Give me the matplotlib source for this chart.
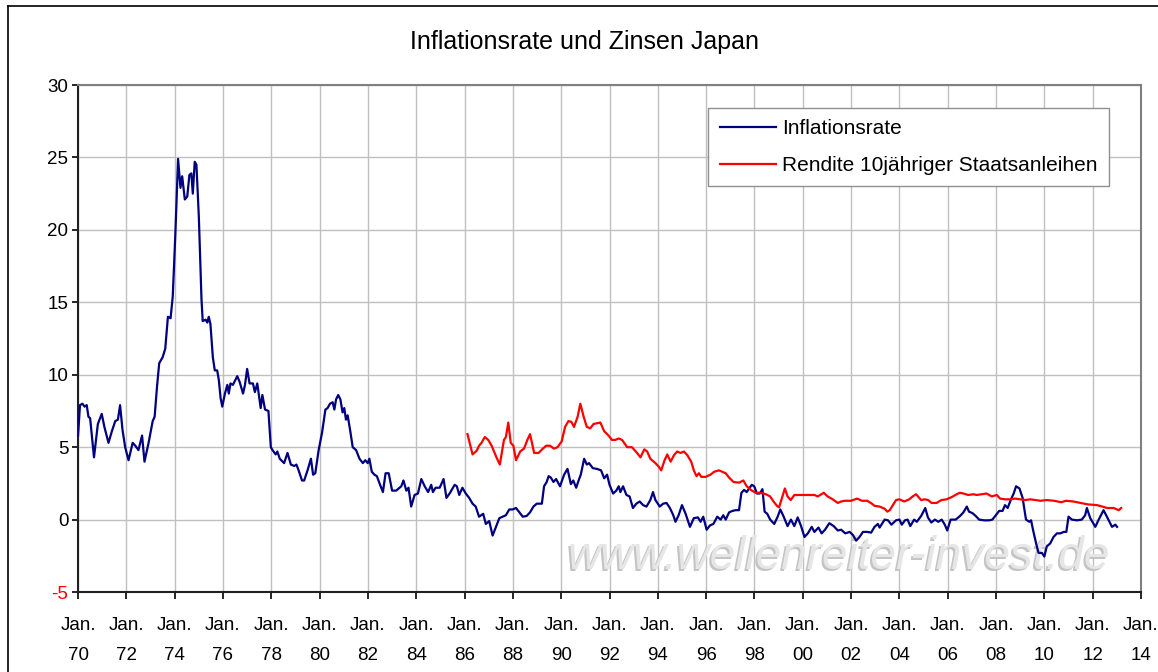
import matplotlib
matplotlib.use("Agg")
import matplotlib.pyplot as plt
from matplotlib.lines import Line2D

plt.rcParams['font.family'] = ['Liberation Sans', 'DejaVu Sans']
plt.rcParams['axes.unicode_minus'] = False

# Inflationsrate Japan (decimal year, percent)
infl_years = [
    1970.00, 1970.08, 1970.18, 1970.27, 1970.36, 1970.43, 1970.50, 1970.66, 1970.82, 1970.98,
    1971.09, 1971.26, 1971.40, 1971.54, 1971.65, 1971.74, 1971.84, 1971.95, 1972.09, 1972.26,
    1972.37, 1972.50, 1972.65, 1972.75, 1972.92, 1973.09, 1973.17, 1973.27, 1973.36, 1973.50,
    1973.61, 1973.72, 1973.83, 1973.92, 1974.03, 1974.14, 1974.24, 1974.31, 1974.42, 1974.52,
    1974.61, 1974.69, 1974.75, 1974.83, 1974.90, 1975.00, 1975.11, 1975.16, 1975.28, 1975.35,
    1975.41, 1975.48, 1975.58, 1975.66, 1975.76, 1975.83, 1975.90, 1975.97, 1976.08, 1976.18,
    1976.24, 1976.31, 1976.41, 1976.59, 1976.69, 1976.83, 1976.91, 1977.00, 1977.10, 1977.24,
    1977.32, 1977.42, 1977.56, 1977.63, 1977.74, 1977.88, 1977.98, 1978.05, 1978.18, 1978.25,
    1978.35, 1978.53, 1978.67, 1978.81, 1978.95, 1979.04, 1979.13, 1979.27, 1979.36, 1979.50,
    1979.64, 1979.73, 1979.82, 1979.96, 1980.10, 1980.24, 1980.33, 1980.43, 1980.54, 1980.61,
    1980.68, 1980.77, 1980.86, 1980.95, 1981.02, 1981.09, 1981.16, 1981.26, 1981.37, 1981.51,
    1981.65, 1981.79, 1981.89, 1981.99, 1982.06, 1982.16, 1982.27, 1982.37, 1982.48, 1982.62,
    1982.73, 1982.86, 1983.00, 1983.17, 1983.38, 1983.47, 1983.59, 1983.68, 1983.79, 1983.93,
    1984.07, 1984.21, 1984.35, 1984.49, 1984.62, 1984.69, 1984.80, 1984.97, 1985.13, 1985.25,
    1985.38, 1985.59, 1985.68, 1985.78, 1985.91, 1986.05, 1986.19, 1986.33, 1986.46, 1986.60,
    1986.77, 1986.88, 1987.02, 1987.16, 1987.30, 1987.44, 1987.57, 1987.71, 1987.85, 1987.99,
    1988.13, 1988.27, 1988.41, 1988.57, 1988.71, 1988.85, 1988.99, 1989.20, 1989.29, 1989.40,
    1989.48, 1989.57, 1989.68, 1989.79, 1989.95, 1990.12, 1990.26, 1990.40, 1990.50, 1990.62,
    1990.72, 1990.81, 1990.95, 1991.06, 1991.15, 1991.31, 1991.48, 1991.65, 1991.78, 1991.90,
    1992.00, 1992.15, 1992.28, 1992.38, 1992.45, 1992.56, 1992.70, 1992.83, 1992.97, 1993.11,
    1993.25, 1993.39, 1993.53, 1993.69, 1993.80, 1993.90, 1994.08, 1994.22, 1994.36, 1994.50,
    1994.64, 1994.73, 1994.86, 1995.00, 1995.15, 1995.33, 1995.49, 1995.66, 1995.77, 1995.88,
    1996.02, 1996.16, 1996.30, 1996.46, 1996.60, 1996.71, 1996.81, 1996.95, 1997.09, 1997.22,
    1997.36, 1997.46, 1997.57, 1997.68, 1997.78, 1997.89, 1997.99, 1998.10, 1998.22, 1998.33,
    1998.42, 1998.53, 1998.65, 1998.82, 1998.96, 1999.07, 1999.21, 1999.37, 1999.51, 1999.65,
    1999.79, 1999.93, 2000.07, 2000.21, 2000.37, 2000.48, 2000.65, 2000.78, 2000.92, 2001.10,
    2001.28, 2001.45, 2001.59, 2001.76, 2001.94, 2002.07, 2002.21, 2002.35, 2002.49, 2002.67,
    2002.83, 2002.97, 2003.11, 2003.18, 2003.39, 2003.53, 2003.67, 2003.86, 2004.00, 2004.10,
    2004.23, 2004.34, 2004.45, 2004.61, 2004.72, 2004.90, 2005.07, 2005.18, 2005.32, 2005.47,
    2005.61, 2005.75, 2005.88, 2005.98, 2006.12, 2006.33, 2006.51, 2006.65, 2006.79, 2006.88,
    2007.02, 2007.16, 2007.30, 2007.51, 2007.72, 2007.85, 2007.99, 2008.13, 2008.27, 2008.37,
    2008.48, 2008.62, 2008.73, 2008.83, 2008.97, 2009.10, 2009.24, 2009.38, 2009.45, 2009.55,
    2009.66, 2009.76, 2009.90, 2010.00, 2010.10, 2010.24, 2010.38, 2010.52, 2010.66, 2010.80,
    2010.91, 2011.00, 2011.14, 2011.35, 2011.55, 2011.69, 2011.76, 2011.90, 2012.11, 2012.25,
    2012.45, 2012.59, 2012.80, 2012.94, 2013.01,
]
infl_values = [
    5.8, 7.9, 8.0, 7.8, 7.9, 7.1, 7.0, 4.3, 6.6, 7.3,
    6.4, 5.3, 6.1, 6.8, 6.9, 7.9, 6.2, 5.0, 4.1, 5.3,
    5.1, 4.8, 5.8, 4.0, 5.3, 6.8, 7.1, 9.2, 10.8, 11.2,
    11.8, 14.0, 13.9, 15.4, 19.8, 24.9, 22.9, 23.7, 22.1, 22.3,
    23.8, 23.9, 22.5, 24.7, 24.5, 20.9, 15.2, 13.7, 13.8, 13.6,
    14.0, 13.5, 11.2, 10.3, 10.3, 9.6, 8.4, 7.8, 8.7, 9.3,
    8.7, 9.4, 9.3, 9.9, 9.5, 8.7, 9.3, 10.4, 9.4, 9.4,
    8.8, 9.4, 7.7, 8.6, 7.6, 7.5, 5.0, 4.8, 4.5, 4.7,
    4.2, 3.9, 4.6, 3.8, 3.7, 3.8, 3.4, 2.7, 2.7, 3.4,
    4.2, 3.1, 3.2, 4.8, 6.0, 7.6, 7.7, 8.0, 8.1, 7.6,
    8.3, 8.6, 8.3, 7.4, 7.7, 6.9, 7.2, 6.2, 5.0, 4.8,
    4.2, 3.9, 4.1, 3.9, 4.2, 3.3, 3.1, 3.0, 2.5, 1.9,
    3.2, 3.2, 2.0, 2.0, 2.3, 2.7, 2.0, 2.2, 0.9, 1.7,
    1.8, 2.8, 2.3, 1.9, 2.4, 1.9, 2.2, 2.2, 2.8, 1.5,
    1.8, 2.4, 2.3, 1.7, 2.2, 1.8, 1.5, 1.1, 0.9, 0.2,
    0.4, -0.3, -0.1, -1.1, -0.5, 0.1, 0.2, 0.3, 0.7, 0.7,
    0.8, 0.5, 0.2, 0.25, 0.5, 0.9, 1.1, 1.1, 2.3, 2.6,
    3.0, 2.9, 2.6, 2.8, 2.3, 3.1, 3.5, 2.45, 2.7, 2.2,
    2.7, 3.1, 4.2, 3.8, 3.9, 3.55, 3.5, 3.4, 2.85, 3.1,
    2.4, 1.8, 2.0, 2.3, 1.9, 2.3, 1.7, 1.6, 0.8, 1.1,
    1.25, 1.0, 0.9, 1.35, 1.9, 1.35, 0.9, 1.1, 1.15, 0.8,
    0.3, -0.15, 0.3, 1.0, 0.4, -0.5, 0.1, 0.15, -0.15, 0.2,
    -0.7, -0.4, -0.3, 0.2, 0.0, 0.3, 0.0, 0.5, 0.6, 0.65,
    0.65, 1.85, 2.05, 1.9, 2.15, 2.4, 2.3, 1.8, 1.8, 2.1,
    0.55, 0.4, 0.0, -0.3, 0.2, 0.7, 0.2, -0.45, 0.0, -0.45,
    0.15, -0.45, -1.2, -0.95, -0.5, -0.85, -0.55, -0.95, -0.7, -0.25,
    -0.45, -0.75, -0.7, -0.95, -0.85, -1.05, -1.45, -1.2, -0.85, -0.85,
    -0.9, -0.5, -0.3, -0.55, 0.0, -0.05, -0.35, -0.05, 0.0, -0.35,
    -0.05, 0.0, -0.45, 0.0, -0.15, 0.25, 0.8, 0.15, -0.2, 0.0,
    -0.15, 0.0, -0.35, -0.75, 0.0, 0.0, 0.25, 0.5, 0.9, 0.55,
    0.45, 0.25, 0.0, -0.05, -0.05, 0.0, 0.3, 0.6, 0.6, 1.0,
    0.8, 1.4, 1.8, 2.3, 2.15, 1.5, 0.0, -0.15, -0.05, -0.85,
    -1.65, -2.3, -2.3, -2.55, -1.85, -1.65, -1.2, -0.95, -0.95, -0.85,
    -0.85, 0.2, 0.0, -0.05, 0.0, 0.3, 0.8, 0.1, -0.5, 0.0,
    0.65, 0.2, -0.5, -0.35, -0.5,
]

# Rendite 10jähriger Staatsanleihen (decimal year, percent)
bond_years = [
    1986.12, 1986.33, 1986.50, 1986.60, 1986.70, 1986.84, 1986.98, 1987.12, 1987.32, 1987.46,
    1987.63, 1987.71, 1987.81, 1987.91, 1988.02, 1988.13, 1988.30, 1988.46, 1988.60, 1988.71,
    1988.88, 1989.06, 1989.24, 1989.38, 1989.54, 1989.70, 1989.85, 1990.02, 1990.16, 1990.30,
    1990.42, 1990.53, 1990.68, 1990.79, 1990.93, 1991.06, 1991.20, 1991.34, 1991.48, 1991.62,
    1991.78, 1991.96, 1992.10, 1992.24, 1992.38, 1992.52, 1992.73, 1992.93, 1993.14, 1993.28,
    1993.44, 1993.56, 1993.69, 1993.90, 1994.04, 1994.14, 1994.28, 1994.39, 1994.53, 1994.67,
    1994.80, 1994.94, 1995.08, 1995.22, 1995.38, 1995.49, 1995.60, 1995.70, 1995.80, 1995.98,
    1996.18, 1996.33, 1996.53, 1996.81, 1996.95, 1997.13, 1997.36, 1997.54, 1997.68, 1997.85,
    1998.05, 1998.26, 1998.47, 1998.65, 1998.79, 1998.93, 1999.02, 1999.12, 1999.26, 1999.37,
    1999.50, 1999.65, 1999.85, 2000.20, 2000.48, 2000.62, 2000.87, 2001.03, 2001.24, 2001.45,
    2001.59, 2001.73, 2002.00, 2002.25, 2002.45, 2002.67, 2002.86, 2002.97, 2003.18, 2003.39,
    2003.50, 2003.60, 2003.86, 2004.00, 2004.20, 2004.41, 2004.55, 2004.69, 2004.90, 2005.05,
    2005.19, 2005.33, 2005.54, 2005.74, 2005.95, 2006.16, 2006.37, 2006.50, 2006.65, 2006.85,
    2007.06, 2007.20, 2007.40, 2007.61, 2007.82, 2008.03, 2008.17, 2008.37, 2008.58, 2008.79,
    2009.00, 2009.21, 2009.42, 2009.63, 2009.84, 2010.10, 2010.40, 2010.70, 2010.90, 2011.20,
    2011.50, 2011.80, 2012.18, 2012.40, 2012.60, 2012.87, 2013.08, 2013.18,
]
bond_values = [
    5.9, 4.5, 4.75, 5.1, 5.3, 5.7, 5.5, 5.1, 4.3, 3.8,
    5.5, 5.7, 6.7, 5.3, 5.1, 4.1, 4.7, 4.9, 5.5, 5.9,
    4.6, 4.6, 4.9, 5.1, 5.1, 4.9, 5.0, 5.4, 6.4, 6.8,
    6.75, 6.4, 7.1, 8.0, 7.1, 6.4, 6.3, 6.6, 6.65, 6.7,
    6.1, 5.8, 5.5, 5.5, 5.6, 5.5, 5.0, 5.0, 4.6, 4.3,
    4.85, 4.7, 4.2, 3.9, 3.65, 3.4, 4.1, 4.5, 4.0, 4.45,
    4.7, 4.6, 4.7, 4.45, 4.0, 3.4, 3.0, 3.2, 2.95, 2.95,
    3.1, 3.3, 3.4, 3.2, 2.9, 2.6, 2.55, 2.7, 2.3, 2.05,
    1.85, 1.85, 1.75, 1.6, 1.25, 0.95, 0.85, 1.4, 2.15, 1.6,
    1.35, 1.7, 1.7, 1.7, 1.7, 1.6, 1.85, 1.6, 1.4, 1.15,
    1.25, 1.3, 1.3, 1.45, 1.3, 1.3, 1.1, 0.95, 0.9, 0.75,
    0.55, 0.65, 1.35, 1.4, 1.25, 1.4, 1.6, 1.75, 1.35, 1.4,
    1.35, 1.15, 1.15, 1.35, 1.4, 1.55, 1.75, 1.85, 1.8, 1.7,
    1.75, 1.7, 1.75, 1.8, 1.6, 1.7, 1.45, 1.4, 1.4, 1.45,
    1.4, 1.35, 1.4, 1.35, 1.3, 1.35, 1.3, 1.2, 1.3, 1.25,
    1.15, 1.05, 1.0, 0.9, 0.8, 0.8, 0.65, 0.8,
]

tick_years = list(range(1970, 2015, 2))
tick_labels = ["Jan.\n%02d" % (y % 100) for y in tick_years]

fig = plt.figure(figsize=(11.58, 6.72), dpi=100)
ax = fig.add_axes([0.0674, 0.119, 0.9179, 0.7545])

ax.plot(infl_years, infl_values, color='#000080', lw=1.6, label='Inflationsrate', zorder=3)
ax.plot(bond_years, bond_values, color='#ff0000', lw=1.6,
        label='Rendite 10jähriger Staatsanleihen', zorder=3)

ax.set_xlim(1970, 2014)
ax.set_ylim(-5, 30)
ax.set_yticks(range(-5, 31, 5))
ax.set_xticks(tick_years)
ax.set_xticklabels(tick_labels, fontsize=13.5, linespacing=2.0)
ax.tick_params(axis='y', labelsize=13.5, length=4, width=1.2, pad=3, direction='out')
ax.tick_params(axis='x', length=5, width=1.2, pad=13, direction='out')
ax.get_yticklabels()[0].set_color('red')

ax.grid(True, color='#c0c0c0', lw=1.0, zorder=0)
ax.set_axisbelow(True)
for side in ['left', 'bottom']:
    ax.spines[side].set_color('#202020')
    ax.spines[side].set_linewidth(1.5)
for side in ['top', 'right']:
    ax.spines[side].set_color('#808080')
    ax.spines[side].set_linewidth(1.5)

fig.text(0.505, 0.937, 'Inflationsrate und Zinsen Japan', ha='center', va='center', fontsize=18)

# watermark
ax.text(0.714, 0.066, 'www.wellenreiter-invest.de', transform=ax.transAxes, ha='center',
        va='center', fontsize=33, style='italic', color='#c4c4c4', zorder=1)
ax.text(0.7155, 0.069, 'www.wellenreiter-invest.de', transform=ax.transAxes, ha='center',
        va='center', fontsize=33, style='italic', color='#e6e6e6', zorder=1)

leg = ax.legend(loc='upper left', bbox_to_anchor=(0.593, 0.955), fontsize=15,
                frameon=True, fancybox=False, framealpha=1, edgecolor='#909090',
                handlelength=2.7, handletextpad=0.3, labelspacing=0.85,
                borderpad=0.55, borderaxespad=0)
leg.get_frame().set_linewidth(1.0)

# outer chart border
fig.add_artist(Line2D([0.0069, 0.0069], [0, 0.991], color='black', lw=1.2, transform=fig.transFigure))
fig.add_artist(Line2D([0.0069, 1.0], [0.991, 0.991], color='black', lw=1.2, transform=fig.transFigure))

fig.savefig('out.png', dpi=100)
